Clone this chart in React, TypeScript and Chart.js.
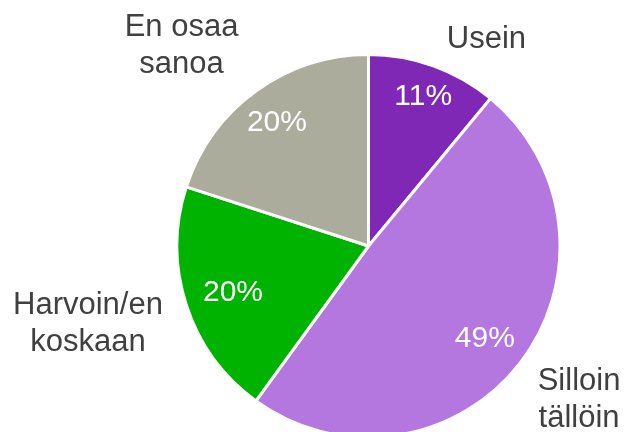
import React, { useEffect, useRef } from "react";
import { Chart, registerables } from "chart.js";

Chart.register(...registerables);

const categoryLines: string[][] = [
  ["Usein"],
  ["Silloin", "tällöin"],
  ["Harvoin/en", "koskaan"],
  ["En osaa", "sanoa"],
];
const categories = categoryLines.map((l) => l.join(" "));
const values = [11, 49, 20, 20];
const colors = ["#7F28B5", "#B476DF", "#00B300", "#ACAC9C"];

// layout tweaks for labels (px / radius fractions)
const INSIDE_FRACTION = [0.85, 0.775, 0.75, 0.82];
const OUTSIDE_NUDGE: [number, number][] = [
  [53.6, -30.5],
  [60.4, 34.5],
  [-99.8, 17],
  [-75.3, -48.6],
];

const FONT = "'Liberation Sans', Arial, sans-serif";

const labelPlugin = {
  id: "pieLabels",
  afterDatasetsDraw(chart: any) {
    const ctx = chart.ctx;
    const meta = chart.getDatasetMeta(0);
    ctx.save();
    meta.data.forEach((arc: any, i: number) => {
      const { x, y, startAngle, endAngle, outerRadius } = arc.getProps(
        ["x", "y", "startAngle", "endAngle", "outerRadius"],
        true
      );
      const mid = (startAngle + endAngle) / 2;
      const R = outerRadius - 1.5;
      // inside percent
      const f = INSIDE_FRACTION[i];
      const px = x + Math.cos(mid) * R * f;
      const py = y + Math.sin(mid) * R * f;
      ctx.font = `30px ${FONT}`;
      ctx.fillStyle = "#FFFFFF";
      ctx.textAlign = "center";
      ctx.textBaseline = "alphabetic";
      ctx.fillText(values[i] + "%", px, py + 0.716 * 30 / 2);
      // outside category
      const ex = x + Math.cos(mid) * R + OUTSIDE_NUDGE[i][0];
      const ey = y + Math.sin(mid) * R + OUTSIDE_NUDGE[i][1];
      const lines = categoryLines[i];
      const fs = 31;
      const capH = 0.716 * fs;
      const lh = 37;
      const blockH = capH + lh * (lines.length - 1);
      ctx.font = `${fs}px ${FONT}`;
      ctx.fillStyle = "#404040";
      lines.forEach((t, j) => {
        ctx.fillText(t, ex, ey - blockH / 2 + capH + j * lh);
      });
    });
    ctx.restore();
  },
};

export default function App() {
  const ref = useRef<HTMLCanvasElement | null>(null);
  useEffect(() => {
    if (!ref.current) return;
    const chart = new Chart(ref.current, {
      type: "pie",
      data: {
        labels: categories,
        datasets: [
          {
            data: values,
            backgroundColor: colors,
            borderColor: "#FFFFFF",
            borderWidth: 3,
            hoverOffset: 0,
            offset: 0,
          },
        ],
      },
      options: {
        animation: false,
        responsive: false,
        maintainAspectRatio: false,
        layout: { padding: { top: 53, bottom: 1, left: 175.5, right: 63.5 } },
        plugins: {
          legend: { display: false },
          tooltip: { enabled: false },
        },
      },
      plugins: [labelPlugin],
    });
    return () => chart.destroy();
  }, []);
  return (
    <div
      style={{
        position: "fixed",
        left: 0,
        top: 0,
        width: 625,
        height: 432,
        overflow: "hidden",
        background: "#FFFFFF",
      }}
    >
      <canvas ref={ref} width={625} height={440} style={{ display: "block" }} />
    </div>
  );
}
